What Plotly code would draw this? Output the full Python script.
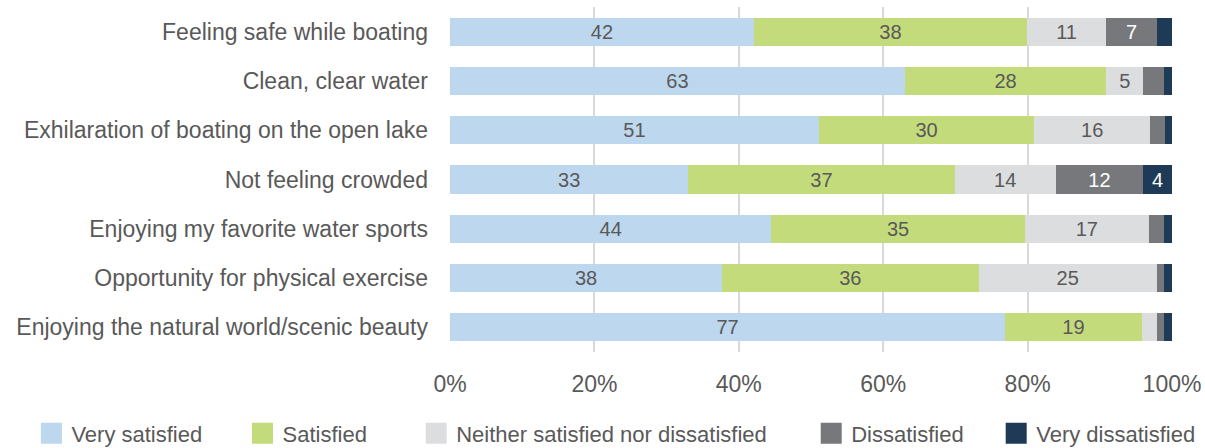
import plotly.graph_objects as go

categories = [
    "Feeling safe while boating",
    "Clean, clear water",
    "Exhilaration of boating on the open lake",
    "Not feeling crowded",
    "Enjoying my favorite water sports",
    "Opportunity for physical exercise",
    "Enjoying the natural world/scenic beauty",
]
very_satisfied = [42.1, 63.0, 51.1, 33.0, 44.5, 37.7, 76.9]
satisfied = [37.8, 27.9, 29.8, 36.9, 35.1, 35.5, 18.9]
neither = [11.0, 5.1, 16.1, 14.0, 17.2, 24.7, 2.1]
dissatisfied = [7.0, 2.9, 2.0, 12.1, 2.1, 1.0, 1.0]
very_dissatisfied = [2.1, 1.1, 1.0, 4.0, 1.1, 1.1, 1.1]

series = [
    ("Very satisfied", very_satisfied, "#BDD7EE", "#595959"),
    ("Satisfied", satisfied, "#C4DB7C", "#595959"),
    ("Neither satisfied nor dissatisfied", neither, "#DCDDDF", "#595959"),
    ("Dissatisfied", dissatisfied, "#77787B", "#FFFFFF"),
    ("Very dissatisfied", very_dissatisfied, "#1F3A56", "#FFFFFF"),
]

legend_x = [-0.5798, -0.2874, -0.0468, 0.5003, 0.7565]

fig = go.Figure()
for i, (name, vals, color, tcolor) in enumerate(series):
    fig.add_trace(go.Bar(
        y=categories, x=vals, orientation="h", name=name,
        marker=dict(color=color, line=dict(width=0)),
        text=[f"{v:.0f}" if v >= 4 else "" for v in vals],
        textposition="inside", insidetextanchor="middle", textangle=0,
        insidetextfont=dict(color=tcolor, size=20, family="Liberation Sans"),
        constraintext="none",
        showlegend=False, hoverinfo="skip",
    ))
    lg = "legend" if i == 0 else f"legend{i+1}"
    fig.add_trace(go.Scatter(
        x=[None], y=[None], mode="markers", name=name,
        marker=dict(symbol="square", size=16, color=color,
                    line=dict(color=color, width=6)),
        showlegend=True, legend=lg,
    ))

legend_common = dict(
    orientation="h", yanchor="middle", y=-0.236, xanchor="left",
    font=dict(family="Liberation Sans", size=22, color="#595959"),
    bgcolor="rgba(0,0,0,0)", borderwidth=0, itemsizing="trace",
)
layout_legends = {}
for i, lx in enumerate(legend_x):
    key = "legend" if i == 0 else f"legend{i+1}"
    layout_legends[key] = dict(legend_common, x=lx)

fig.update_layout(
    barmode="stack",
    bargap=0.43,
    width=1205, height=448,
    margin=dict(l=450, r=33, t=7, b=96, autoexpand=False),
    paper_bgcolor="white", plot_bgcolor="white",
    font=dict(family="Liberation Sans", color="#595959"),
    xaxis=dict(
        range=[0, 100], dtick=20, ticksuffix="%",
        showgrid=True, gridcolor="#D9D9D9", gridwidth=2,
        zeroline=False, showline=False,
        tickfont=dict(size=23, color="#595959"),
        ticklabelstandoff=16, automargin=False,
        fixedrange=True,
    ),
    yaxis=dict(
        categoryorder="array", categoryarray=categories[::-1],
        tickfont=dict(size=23, color="#595959"),
        ticklabelstandoff=21, automargin=False,
        showgrid=False, zeroline=False, showline=False,
    ),
    **layout_legends,
)

fig.write_html("out.html", config={"displayModeBar": False},
               post_script="document.body.style.margin='0';")
